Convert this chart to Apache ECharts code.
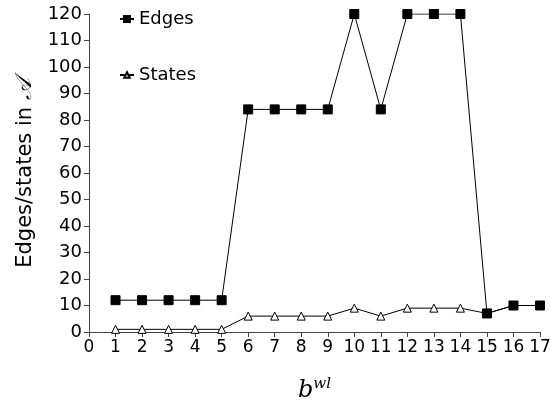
<!DOCTYPE html>
<html>
<head>
<meta charset="utf-8">
<script src="https://cdn.jsdelivr.net/npm/echarts@6/dist/echarts.min.js"></script>
<style>
  html, body { margin: 0; padding: 0; background: #fff; }
  #main { width: 550px; height: 406px; }
</style>
</head>
<body>
<div id="main"></div>
<script>
// data
const xValues = [1, 2, 3, 4, 5, 6, 7, 8, 9, 10, 11, 12, 13, 14, 15, 16, 17];
const edges = [12, 12, 12, 12, 12, 84, 84, 84, 84, 120, 84, 120, 120, 120, 7, 10, 10];
const states = [1, 1, 1, 1, 1, 6, 6, 6, 6, 9, 6, 9, 9, 9, 7, 10, 10];

const font = 'DejaVu Sans';
const chart = echarts.init(document.getElementById('main'));

const pairs = (ys) => xValues.map((x, i) => [x, ys[i]]);

const option = {
  backgroundColor: '#fff',
  animation: false,
  textStyle: { fontFamily: font, color: '#000' },
  grid: { left: 89, right: 10, top: 14, bottom: 74, containLabel: false, outerBoundsMode: 'none' },
  legend: [{
    data: ['Edges'],
    left: 114, top: 5,
    itemWidth: 14, itemHeight: 10, itemGap: 4,
    textStyle: { fontSize: 18, fontFamily: font, color: '#000' }
  }, {
    data: ['States'],
    left: 114, top: 61,
    itemWidth: 14, itemHeight: 7,
    textStyle: { fontSize: 18, fontFamily: font, color: '#000' }
  }],
  xAxis: {
    type: 'value',
    min: 0, max: 17, interval: 1,
    name: '{i|b}{s|wl}',
    nameLocation: 'middle',
    nameGap: 45,
    nameTextStyle: {
      rich: {
        i: { fontFamily: 'DejaVu Serif', fontStyle: 'italic', fontSize: 24, color: '#000' },
        s: { fontFamily: 'DejaVu Serif', fontStyle: 'italic', fontSize: 15, color: '#000', verticalAlign: 'top', padding: [0, 0, 12, 0] }
      }
    },
    splitLine: { show: false },
    axisLine: { lineStyle: { color: '#444', width: 1 } },
    axisTick: { length: 5, lineStyle: { color: '#444' } },
    axisLabel: { fontSize: 17, color: '#000', margin: 7, fontFamily: font }
  },
  yAxis: {
    type: 'value',
    min: 0, max: 120, interval: 10,
    name: 'Edges/states in {a|𝒜}',
    nameLocation: 'middle',
    nameGap: 52,
    nameTextStyle: {
      fontSize: 21, color: '#000', fontFamily: font,
      rich: { a: { fontSize: 23, fontFamily: 'DejaVu Serif', fontStyle: 'italic', color: '#000' } }
    },
    splitLine: { show: false },
    axisLine: { show: true, lineStyle: { color: '#444', width: 1 } },
    axisTick: { show: true, length: 5, lineStyle: { color: '#444' } },
    axisLabel: { fontSize: 18, color: '#000', margin: 7, fontFamily: font }
  },
  series: [{
    name: 'States',
    type: 'line',
    data: pairs(states),
    symbol: 'triangle',
    symbolSize: 8,
    lineStyle: { color: '#000', width: 1 },
    itemStyle: { color: '#fff', borderColor: '#000', borderWidth: 1 },
    z: 2
  }, {
    name: 'Edges',
    type: 'line',
    data: pairs(edges),
    symbol: 'rect',
    symbolSize: 9,
    lineStyle: { color: '#000', width: 1 },
    itemStyle: { color: '#000', borderColor: '#000' },
    z: 3
  }]
};

chart.setOption(option);
</script>
</body>
</html>
